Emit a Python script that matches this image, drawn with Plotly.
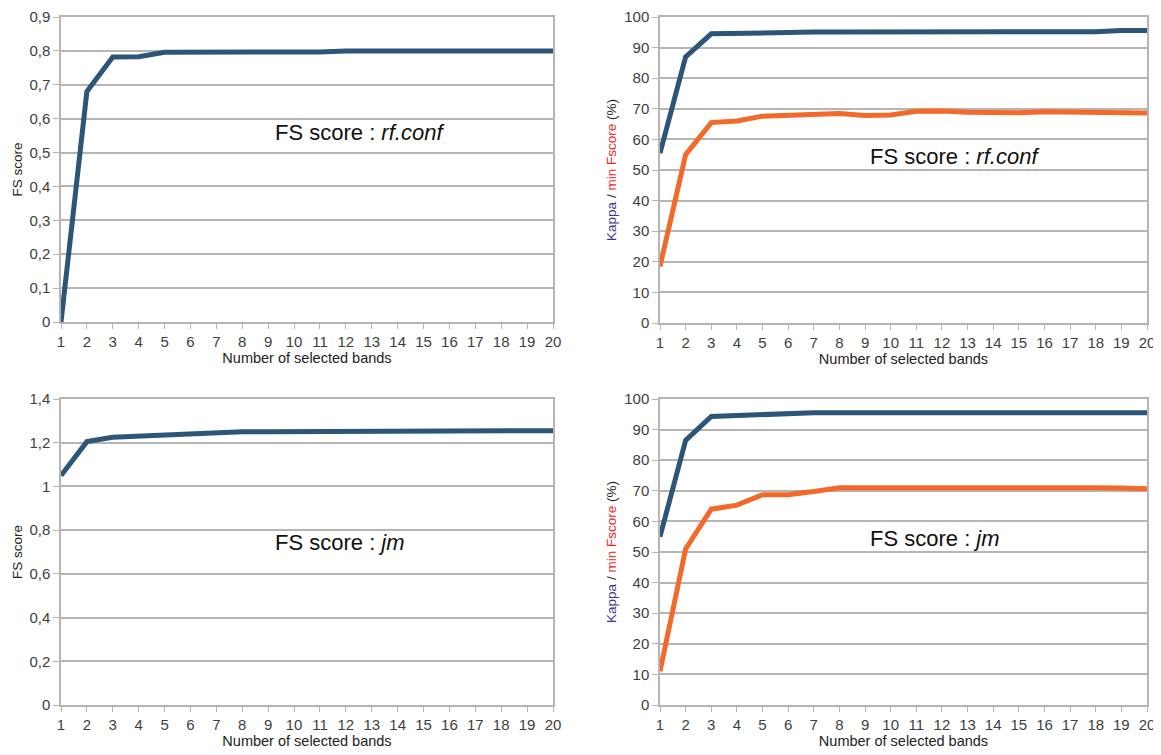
import plotly.graph_objects as go

bands = list(range(1, 21))
x_ticks = list(range(1, 21))

# Top-left: FS score rf.conf
fs_rfconf = [0.0, 0.68, 0.782, 0.783, 0.796, 0.796, 0.796, 0.796, 0.796, 0.796,
             0.797, 0.800, 0.800, 0.800, 0.800, 0.800, 0.800, 0.800, 0.800, 0.800]

# Top-right: Kappa and min Fscore (rf.conf)
kappa_rfconf = [55.5, 87.0, 94.5, 94.7, 95.0, 95.1, 95.1, 95.1, 95.1, 95.1,
                95.1, 95.1, 95.1, 95.1, 95.1, 95.1, 95.1, 95.2, 95.6, 95.6]
fscore_rfconf = [18.5, 55.0, 65.5, 66.0, 67.6, 67.9, 68.3, 68.5, 67.8, 68.0,
                 69.2, 69.3, 68.9, 68.6, 68.7, 69.0, 69.0, 69.0, 69.0, 68.6]

# Bottom-left: FS score jm
fs_jm = [1.05, 1.205, 1.225, 1.230, 1.240, 1.245, 1.250, 1.250, 1.250, 1.250,
         1.250, 1.255, 1.255, 1.255, 1.255, 1.255, 1.255, 1.255, 1.255, 1.255]

# Bottom-right: Kappa and min Fscore (jm)
kappa_jm = [55.0, 86.5, 94.3, 94.7, 95.0, 95.1, 95.5, 95.5, 95.5, 95.5,
            95.5, 95.5, 95.5, 95.5, 95.5, 95.5, 95.5, 95.5, 95.5, 95.5]
fscore_jm = [11.0, 51.0, 64.0, 65.3, 68.7, 68.7, 69.8, 71.0, 71.0, 71.0,
             71.4, 71.4, 71.0, 71.0, 71.4, 71.4, 71.2, 71.0, 70.9, 70.7]

BLUE = "#2D5577"
ORANGE = "#F3692A"
GRID = "#B8B4B2"
TICKC = "#3E3E3E"
FONT = "Liberation Sans"

W, H = 1161, 755
OFF = 8  # page body margin offset

def xd(a, b):
    return [(a - OFF) / W, (b - OFF) / W]

def yd(top, bottom):
    return [1 - (bottom - OFF) / H, 1 - (top - OFF) / H]

fig = go.Figure()

panels = [
    ("x", "y", xd(61, 553), yd(17, 322), [0, 0.9], 0.1, [(fs_rfconf, BLUE)], "FS score",
     "FS score : <i>rf.conf</i>", (360, 133)),
    ("x2", "y2", xd(660, 1147), yd(17, 323), [0, 100], 10, [(kappa_rfconf, BLUE), (fscore_rfconf, ORANGE)],
     "<span style='color:#3B3A8A'>Kappa</span> / <span style='color:#E8261C'>min Fscore</span> (%)",
     "FS score : <i>rf.conf</i>", (955, 157)),
    ("x3", "y3", xd(61, 553), yd(399, 705), [0, 1.4], 0.2, [(fs_jm, BLUE)], "FS score",
     "FS score : <i>jm</i>", (340, 542)),
    ("x4", "y4", xd(660, 1147), yd(399, 705), [0, 100], 10, [(kappa_jm, BLUE), (fscore_jm, ORANGE)],
     "<span style='color:#3B3A8A'>Kappa</span> / <span style='color:#E8261C'>min Fscore</span> (%)",
     "FS score : <i>jm</i>", (935, 538)),
]

layout = dict(
    width=W, height=H,
    margin=dict(l=0, r=0, t=0, b=0),
    paper_bgcolor="white", plot_bgcolor="white",
    showlegend=False,
    separators=", ",
    font=dict(family=FONT, color=TICKC),
    annotations=[],
)

for i, (xa, ya, xdom, ydom, yr, dt, series, ytitle, ann, (ax_, ay_)) in enumerate(panels):
    for vals, col in series:
        fig.add_trace(go.Scatter(x=bands, y=vals, xaxis=xa, yaxis=ya, mode="lines",
                                 line=dict(color=col, width=5), hoverinfo="skip", cliponaxis=False))
    xkey = "xaxis" if xa == "x" else "xaxis" + xa[1:]
    ykey = "yaxis" if ya == "y" else "yaxis" + ya[1:]
    layout[xkey] = dict(
        domain=xdom, anchor=ya, range=[1, 20], tickmode="array", tickvals=x_ticks,
        showgrid=False, zeroline=False, automargin=False,
        showline=True, linecolor=GRID, linewidth=1.5, mirror=True,
        ticks="outside", ticklen=5, tickcolor=GRID,
        tickfont=dict(size=15, color=TICKC, family=FONT),
        title=dict(text="Number of selected bands", font=dict(size=14.5, color="#222222", family=FONT), standoff=4),
    )
    layout[ykey] = dict(
        domain=ydom, anchor=xa, range=yr, dtick=dt, tick0=0,
        showgrid=True, gridcolor=GRID, gridwidth=1.5, zeroline=False, automargin=False,
        showline=True, linecolor=GRID, linewidth=1.5, mirror=True,
        ticks="outside", ticklen=6, tickcolor=GRID,
        tickfont=dict(size=15, color=TICKC, family=FONT),
        title=dict(text=ytitle, font=dict(size=13.5, color="#222222", family=FONT), standoff=4),
    )
    layout["annotations"].append(dict(
        text=ann, x=(ax_ - OFF) / W, y=1 - (ay_ - OFF) / H, xref="paper", yref="paper",
        showarrow=False, font=dict(size=22, color="#111111", family=FONT),
        xanchor="center", yanchor="middle",
    ))

fig.update_layout(**layout)
fig.write_html("out.html")
